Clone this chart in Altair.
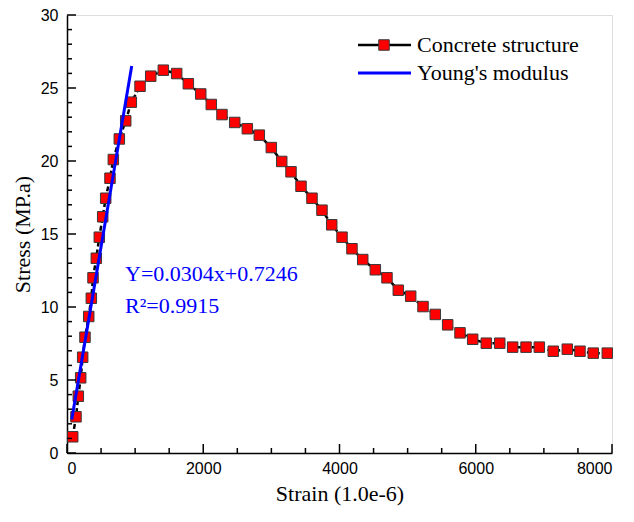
import altair as alt
import pandas as pd

# Data
strain = [84, 132, 166, 201, 230, 264, 319, 357, 382, 430, 474, 524, 568, 631, 680,
          768, 862, 944, 1072, 1229, 1414, 1610, 1781, 1963, 2118, 2275, 2462, 2647,
          2823, 2999, 3152, 3288, 3435, 3596, 3743, 3886, 4037, 4183, 4341, 4526,
          4697, 4863, 5045, 5226, 5406, 5588, 5769, 5955, 6155, 6352, 6542, 6738,
          6933, 7138, 7344, 7530, 7725, 7931]
stress = [1.11, 2.48, 3.89, 5.15, 6.56, 7.93, 9.35, 10.60, 12.0, 13.34, 14.78, 16.18,
          17.45, 18.82, 20.10, 21.51, 22.75, 24.03, 25.12, 25.81, 26.22, 25.99, 25.29,
          24.59, 23.87, 23.18, 22.64, 22.21, 21.77, 20.92, 19.97, 19.26, 18.27, 17.45,
          16.63, 15.63, 14.78, 13.99, 13.25, 12.55, 12.0, 11.15, 10.74, 10.03, 9.49,
          8.78, 8.23, 7.79, 7.52, 7.52, 7.25, 7.25, 7.25, 6.97, 7.11, 6.97, 6.84, 6.84]

fit_strain = [70, 950]
fit_stress = [2.3, 26.5]

x_major = [0, 2000, 4000, 6000, 8000]
x_minor = [500, 1000, 1500, 2500, 3000, 3500, 4500, 5000, 5500, 6500, 7000, 7500]
y_major = [0, 5, 10, 15, 20, 25, 30]
y_minor = [1, 2, 3, 4, 6, 7, 8, 9, 11, 12, 13, 14, 16, 17, 18, 19, 21, 22, 23, 24,
           26, 27, 28, 29]

legend_labels = ["Concrete structure", "Young's modulus"]
annot_lines = ["Y=0.0304x+0.7246", "R\u00b2=0.9915"]

W, H = 545, 438

df = pd.DataFrame({"strain": strain, "stress": stress})
fit = pd.DataFrame({"strain": fit_strain, "stress": fit_stress})
one = pd.DataFrame({"a": [0]})
xmaj = pd.DataFrame({"v": x_major})
xmin = pd.DataFrame({"v": x_minor})
ymaj = pd.DataFrame({"v": y_major})
ymin = pd.DataFrame({"v": y_minor})

xs = alt.Scale(domain=[0, 8000], nice=False, zero=False)
ys = alt.Scale(domain=[0, 30], nice=False, zero=False)

SANS = "Liberation Sans"
SERIF = "Liberation Serif"

x_axis = alt.Axis(values=x_major, format="d", ticks=False, tickSize=0, labelPadding=7,
                  labelFont=SANS, labelFontSize=16, labelColor="black",
                  domainColor="black", domainWidth=1.5, grid=False,
                  title="Strain (1.0e-6)", titleFont=SERIF, titleFontSize=22,
                  titleFontWeight="normal", titleColor="black", titlePadding=7)
y_axis = alt.Axis(values=y_major, ticks=False, tickSize=0, labelPadding=9,
                  labelFont=SANS, labelFontSize=16, labelColor="black",
                  domainColor="black", domainWidth=1.5, grid=False,
                  title="Stress (MP.a)", titleFont=SERIF, titleFontSize=22,
                  titleFontWeight="normal", titleColor="black", titlePadding=6)

line = alt.Chart(df).mark_line(color="black", strokeWidth=2.5, strokeDash=[5, 3]).encode(
    x=alt.X("strain:Q", scale=xs, axis=x_axis),
    y=alt.Y("stress:Q", scale=ys, axis=y_axis),
)
pts = alt.Chart(df).mark_square(size=110, color="#ff0000", opacity=1,
                                stroke="#3a3a3a", strokeWidth=1).encode(
    x=alt.X("strain:Q", scale=xs),
    y=alt.Y("stress:Q", scale=ys),
)
blue = alt.Chart(fit).mark_line(color="#0000ff", strokeWidth=3).encode(
    x=alt.X("strain:Q", scale=xs),
    y=alt.Y("stress:Q", scale=ys),
)


def xticks(d, size):
    return alt.Chart(d).mark_tick(orient="vertical", size=size, thickness=1.5,
                                  color="black", opacity=1).encode(
        x=alt.X("v:Q", scale=xs), y=alt.value(H - size / 2))


def yticks(d, size):
    return alt.Chart(d).mark_tick(orient="horizontal", size=size, thickness=1.5,
                                  color="black", opacity=1).encode(
        y=alt.Y("v:Q", scale=ys), x=alt.value(size / 2))


leg_line1 = alt.Chart(one).mark_rule(color="black", strokeWidth=2.5).encode(
    x=alt.value(291), x2=alt.value(344), y=alt.value(30))
leg_sq = alt.Chart(one).mark_square(size=110, color="#ff0000", opacity=1,
                                    stroke="#3a3a3a", strokeWidth=1).encode(
    x=alt.value(317), y=alt.value(30))
leg_line2 = alt.Chart(one).mark_rule(color="#0000ff", strokeWidth=3).encode(
    x=alt.value(291), x2=alt.value(344), y=alt.value(58))
leg_t1 = alt.Chart(one).mark_text(text=legend_labels[0], font=SERIF, fontSize=22,
                                  align="left", baseline="middle", color="black").encode(
    x=alt.value(350), y=alt.value(30))
leg_t2 = alt.Chart(one).mark_text(text=legend_labels[1], font=SERIF, fontSize=22,
                                  align="left", baseline="middle", color="black").encode(
    x=alt.value(350), y=alt.value(58))

ann1 = alt.Chart(one).mark_text(text=annot_lines[0], font=SERIF, fontSize=22,
                                align="left", baseline="alphabetic", color="#0000ff").encode(
    x=alt.value(58), y=alt.value(266))
ann2 = alt.Chart(one).mark_text(text=annot_lines[1], font=SERIF, fontSize=22,
                                align="left", baseline="alphabetic", color="#0000ff").encode(
    x=alt.value(58), y=alt.value(298))

chart = alt.layer(
    line, pts, blue,
    xticks(xmaj, 9), xticks(xmin, 5), yticks(ymaj, 9), yticks(ymin, 5),
    leg_line1, leg_sq, leg_line2, leg_t1, leg_t2, ann1, ann2,
).properties(
    width=W, height=H,
    autosize=alt.AutoSizeParams(type="none"),
    padding={"left": 59, "top": 7, "right": 14, "bottom": 61},
).configure_view(stroke=None).configure(background="white")

chart.save("out.html", embed_options={"renderer": "svg", "actions": False})
